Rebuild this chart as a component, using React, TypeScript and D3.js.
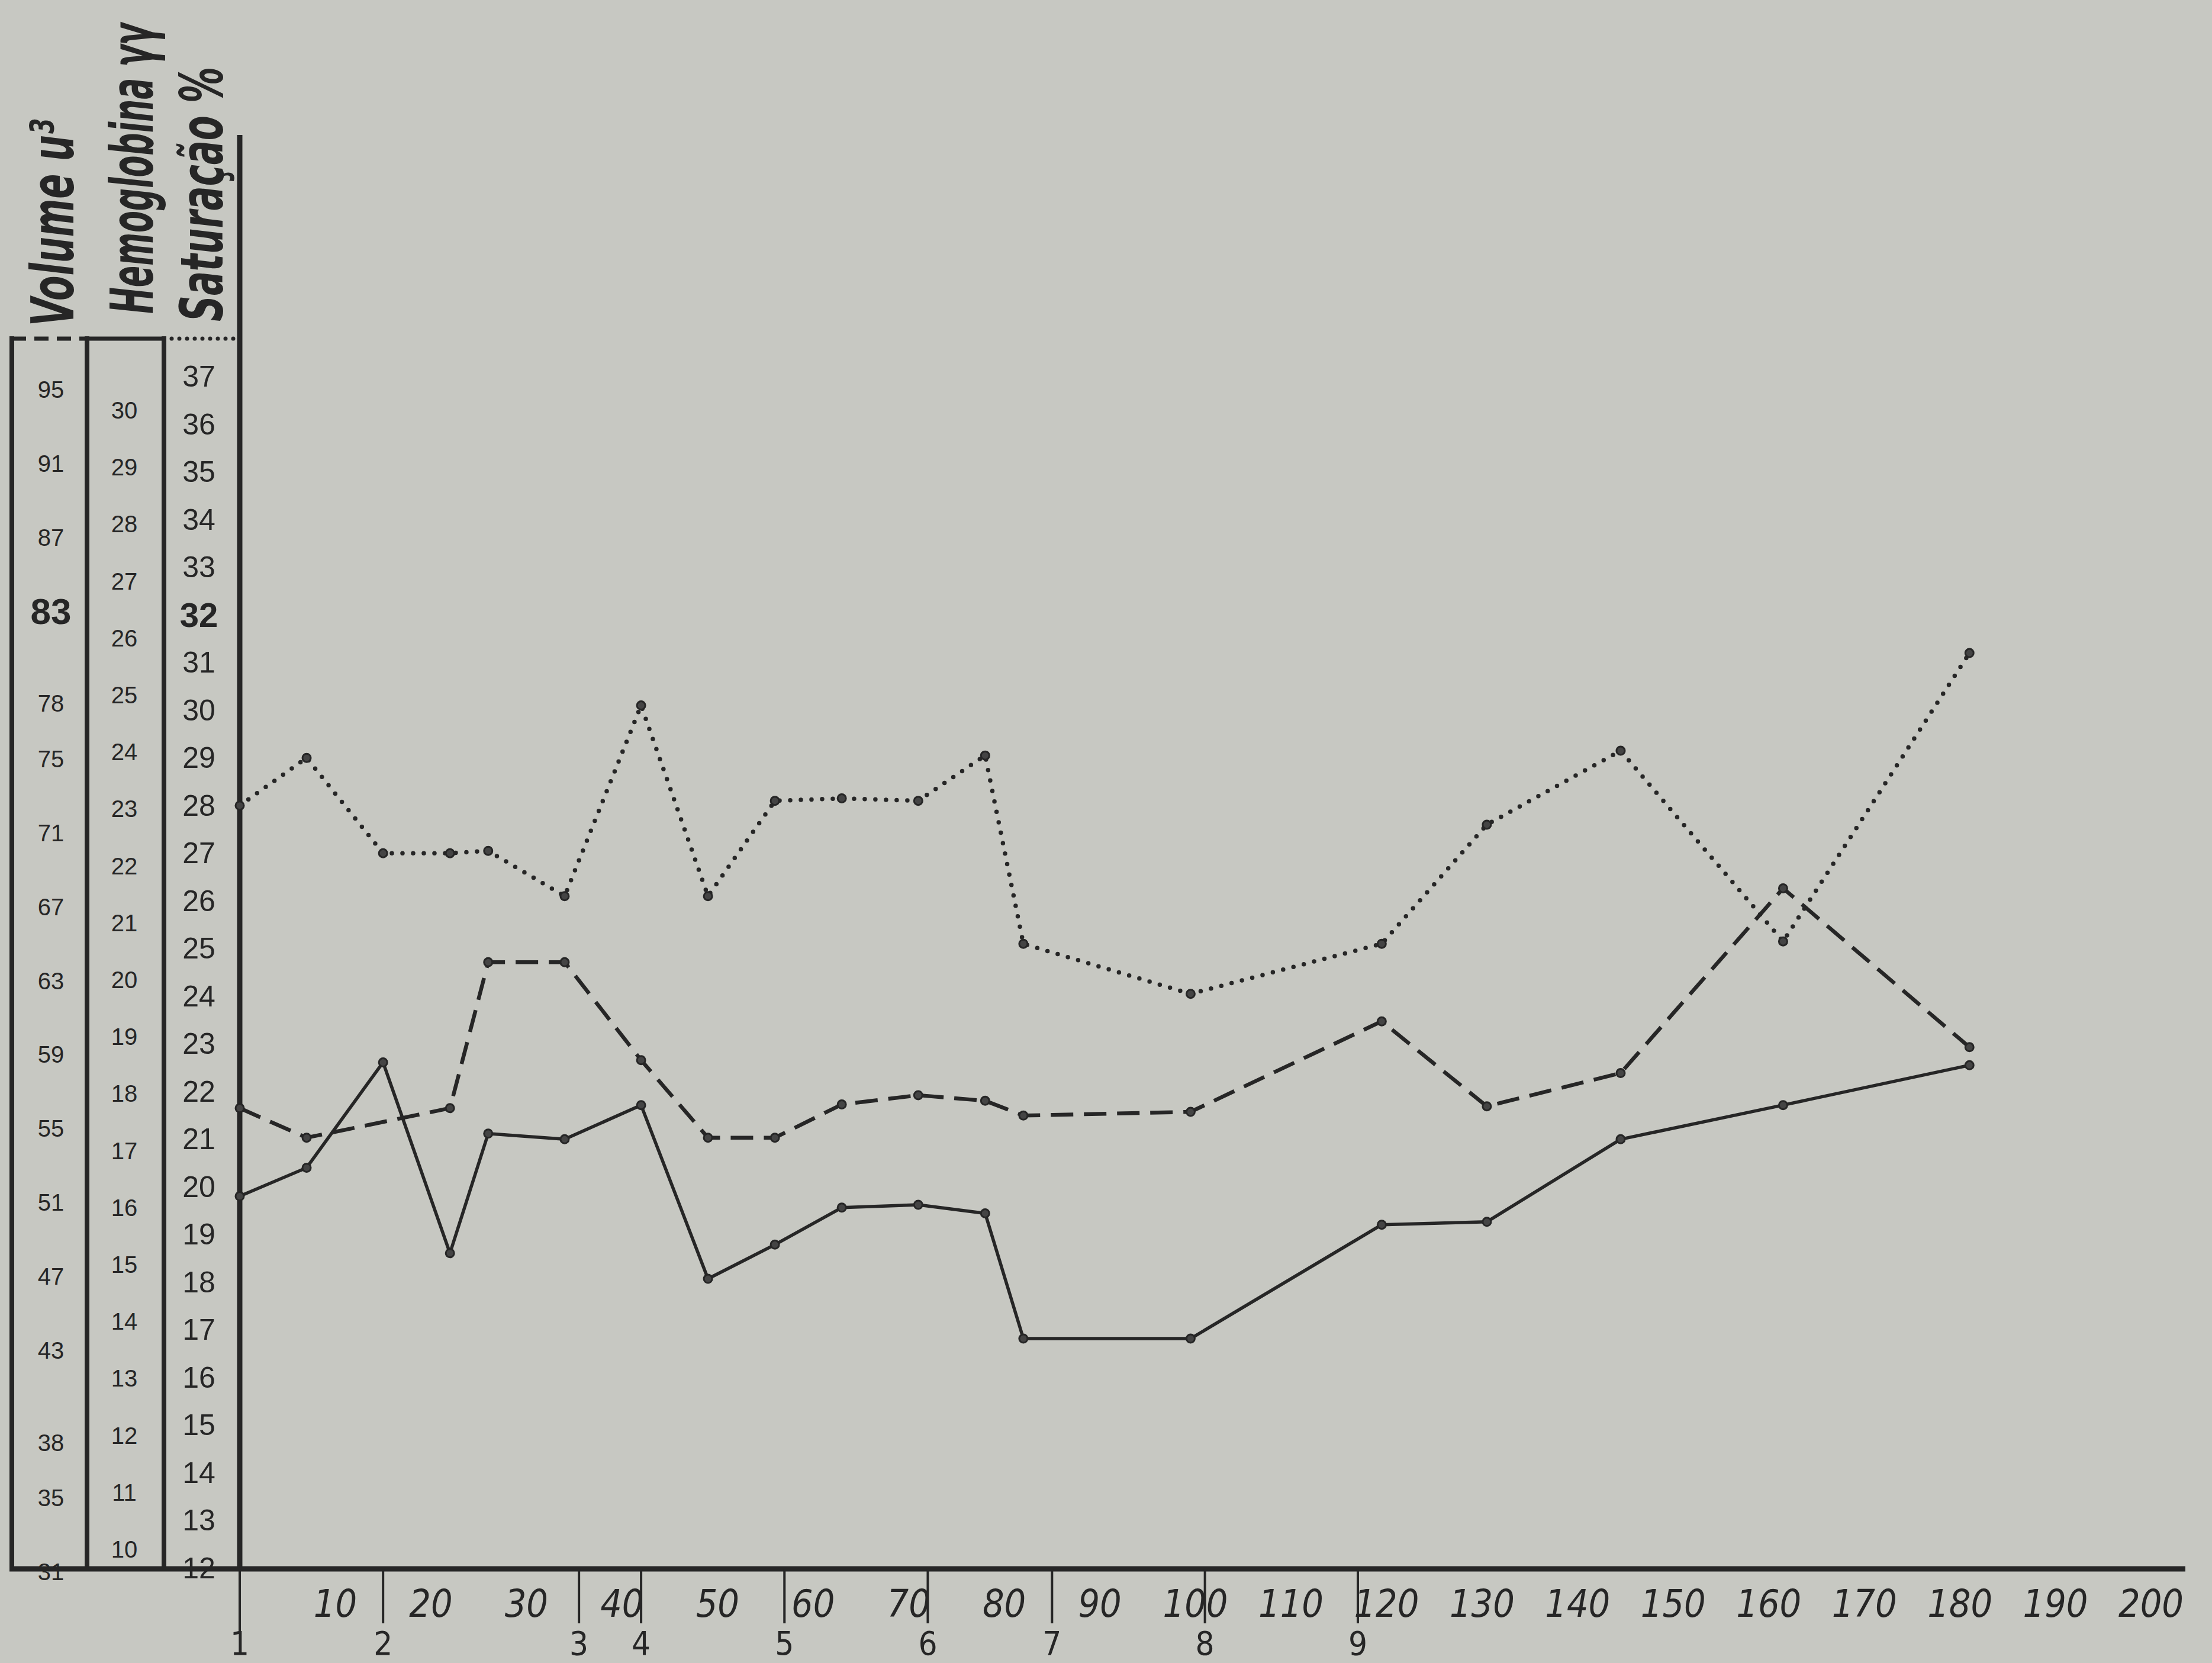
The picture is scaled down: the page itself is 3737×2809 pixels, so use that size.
import React, { useEffect, useRef, useState } from 'react';
import * as d3 from 'd3';

// ---- data ----
const days = [0, 7, 15, 22, 26, 34, 42, 49, 56, 63, 71, 78, 82, 99.5, 119.5, 130.5, 144.5, 161.5, 181];
const saturacao = [28, 29, 27, 27, 27.05, 26.1, 30.1, 26.1, 28.1, 28.15, 28.1, 29.05, 25.1, 24.05, 25.1, 27.6, 29.15, 25.15, 31.2];
const volume: (number | null)[] = [56.1, 54.5, null, 56.1, 64.0, 64.0, 58.7, 54.5, 54.5, 56.3, 56.8, 56.5, 55.7, 55.9, 60.8, 56.2, 58.0, 68.0, 59.4];
const hemoglobina = [16.2, 16.7, 18.55, 15.2, 17.3, 17.2, 17.8, 14.75, 15.35, 16.0, 16.05, 15.9, 13.7, 13.7, 15.7, 15.75, 17.2, 17.8, 18.5];

const dayLabels = [10, 20, 30, 40, 50, 60, 70, 80, 90, 100, 110, 120, 130, 140, 150, 160, 170, 180, 190, 200];
const sampleDays = [0, 15, 35.5, 42, 57, 72, 85, 101, 117];
const sampleLabels = ['1', '2', '3', '4', '5', '6', '7', '8', '9'];

const volumeTicks = [95, 91, 87, 83, 78, 75, 71, 67, 63, 59, 55, 51, 47, 43, 38, 35, 31];
const hemoTicks = [30, 29, 28, 27, 26, 25, 24, 23, 22, 21, 20, 19, 18, 17, 16, 15, 14, 13, 12, 11, 10];
const satTicks = [37, 36, 35, 34, 33, 32, 31, 30, 29, 28, 27, 26, 25, 24, 23, 22, 21, 20, 19, 18, 17, 16, 15, 14, 13, 12];
const bigVolume = [83];
const bigSat = [32];

const titles = ['Volume u³', 'Hemoglobina γγ', 'Saturação %'];

// ---- layout ----
const W = 3737;
const H = 2809;
const paper = '#c7c8c2';
const ink = '#262626';
const baseY = 2650;
const axisX = 405;
const col1 = 20, col2 = 147, col3 = 277;
const boxTop = 572;
const titlePos = [
  { x: 124, y: 551, len: 350 },
  { x: 258, y: 530, len: 490 },
  { x: 376, y: 543, len: 430 },
];

const x = d3.scaleLinear().domain([0, 200]).range([axisX, 3634]);
const ySat = d3.scaleLinear().domain([12, 37]).range([2649, 636]);
const yHemo = d3.scaleLinear().domain([10, 30]).range([2617, 693]);
const yVol = d3.scaleLinear().domain([31, 95]).range([2655, 658]);

const narrow = "'Liberation Sans Narrow', 'DejaVu Sans Condensed', sans-serif";
const sans = "'Liberation Sans', Arial, sans-serif";

function linePath(vals: (number | null)[], y: d3.ScaleLinear<number, number>) {
  const pts = days
    .map((d, i) => [d, vals[i]] as [number, number | null])
    .filter(p => p[1] !== null) as [number, number][];
  return d3.line<[number, number]>()
    .x(p => x(p[0]))
    .y(p => y(p[1]))(pts) || '';
}

function Markers({ vals, y }: { vals: (number | null)[]; y: d3.ScaleLinear<number, number> }) {
  return (
    <g>
      {days.map((d, i) => vals[i] === null ? null : (
        <circle key={i} cx={x(d)} cy={y(vals[i] as number)} r={7} fill="#444" stroke={ink} strokeWidth={3} />
      ))}
    </g>
  );
}

export default function App() {
  const titleRefs = useRef<(SVGTextElement | null)[]>([]);
  const [scales, setScales] = useState<number[]>([1, 1, 1]);

  useEffect(() => {
    const s = titleRefs.current.map((el, i) => {
      if (!el) return 1;
      const w = el.getComputedTextLength();
      return w > 0 ? titlePos[i].len / w : 1;
    });
    setScales(s);
  }, []);

  return (
    <svg width={W} height={H} viewBox={`0 0 ${W} ${H}`} style={{ position: 'absolute', left: 0, top: 0, display: 'block' }}>
      <rect x={0} y={0} width={W} height={H} fill={paper} />

      {/* left scale box */}
      <line x1={col1} y1={boxTop} x2={col2} y2={boxTop} stroke={ink} strokeWidth={7} strokeDasharray="24 14" />
      <line x1={col2} y1={boxTop} x2={col3} y2={boxTop} stroke={ink} strokeWidth={7} />
      <line x1={col3} y1={boxTop} x2={axisX} y2={boxTop} stroke={ink} strokeWidth={7} strokeDasharray="0 13" strokeLinecap="round" />
      {[col1, col2, col3].map((cx, i) => (
        <line key={i} x1={cx} y1={boxTop - 4} x2={cx} y2={baseY} stroke={ink} strokeWidth={8} />
      ))}
      <line x1={axisX} y1={228} x2={axisX} y2={baseY} stroke={ink} strokeWidth={9} />
      <line x1={col1 - 4} y1={baseY} x2={3692} y2={baseY} stroke={ink} strokeWidth={9} />

      {/* titles */}
      <g fill={ink} fontFamily={narrow} fontStyle="italic" fontWeight="bold" fontSize={100}>
        {titles.map((t, i) => (
          <text
            key={t}
            ref={el => { titleRefs.current[i] = el; }}
            transform={`translate(${titlePos[i].x},${titlePos[i].y}) rotate(-90) scale(${scales[i]},1)`}
          >{t}</text>
        ))}
      </g>

      {/* column tick labels */}
      <g fill={ink} fontFamily={sans} textAnchor="middle" dominantBaseline="central">
        {volumeTicks.map(v => (
          <text key={'v' + v} x={86} y={yVol(v)} fontSize={bigVolume.includes(v) ? 62 : 40} fontWeight={bigVolume.includes(v) ? 'bold' : 'normal'}>{v}</text>
        ))}
        {hemoTicks.map(v => (
          <text key={'h' + v} x={210} y={yHemo(v)} fontSize={40}>{v}</text>
        ))}
        {satTicks.map(v => (
          <text key={'s' + v} x={336} y={ySat(v)} fontSize={bigSat.includes(v) ? 58 : 50} fontWeight={bigSat.includes(v) ? 'bold' : 'normal'}>{v}</text>
        ))}
      </g>

      {/* x axis labels */}
      <g fill={ink} fontFamily={narrow} fontStyle="italic" fontSize={64} textAnchor="middle">
        {dayLabels.map(v => (
          <text key={'d' + v} x={x(v)} y={2731}>{v}</text>
        ))}
      </g>
      <g>
        {sampleDays.map((d, i) => (
          <g key={'s' + i}>
            <line x1={x(d)} y1={baseY} x2={x(d)} y2={i === 0 ? 2760 : 2742} stroke={ink} strokeWidth={4} />
            <text x={x(d)} y={2795} fill={ink} fontFamily={narrow} fontSize={56} textAnchor="middle">{sampleLabels[i]}</text>
          </g>
        ))}
      </g>

      {/* data lines */}
      <path d={linePath(saturacao, ySat)} fill="none" stroke={ink} strokeWidth={7.5} strokeDasharray="0 18" strokeLinecap="round" />
      <path d={linePath(volume, yVol)} fill="none" stroke={ink} strokeWidth={6.5} strokeDasharray="38 18" />
      <path d={linePath(hemoglobina, yHemo)} fill="none" stroke={ink} strokeWidth={5.5} strokeLinejoin="round" />

      <Markers vals={saturacao} y={ySat} />
      <Markers vals={volume} y={yVol} />
      <Markers vals={hemoglobina} y={yHemo} />
    </svg>
  );
}
